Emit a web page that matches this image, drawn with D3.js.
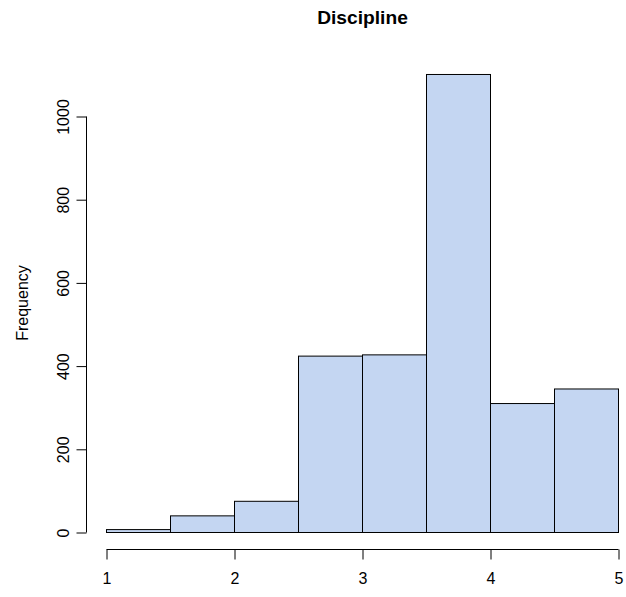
<!DOCTYPE html>
<html>
<head>
<meta charset="utf-8">
<script src="https://cdn.jsdelivr.net/npm/d3@7"></script>
<style>
  html, body { margin: 0; padding: 0; background: #fff; }
  svg { display: block; }
  text { font-family: "Liberation Sans", Arial, Helvetica, sans-serif; fill: #000; }
</style>
</head>
<body>
<script>
// Data (histogram of "Discipline")
const breaks = [1, 1.5, 2, 2.5, 3, 3.5, 4, 4.5, 5];
const counts = [7, 40, 75, 424, 427, 1101, 310, 345];
const xTicks = [1, 2, 3, 4, 5];
const yTicks = [0, 200, 400, 600, 800, 1000];
const title = "Discipline";
const yLabel = "Frequency";

const W = 626, H = 597;
const svg = d3.select("body").append("svg").attr("width", W).attr("height", H);

const x = d3.scaleLinear().domain([1, 5]).range([106.5, 618.5]);
const y = d3.scaleLinear().domain([0, 1000]).range([532.5, 116.5]);

const bins = counts.map((c, i) => ({ x0: breaks[i], x1: breaks[i + 1], n: c }));

svg.append("g").selectAll("rect").data(bins).join("rect")
  .attr("x", d => x(d.x0))
  .attr("y", d => y(d.n))
  .attr("width", d => x(d.x1) - x(d.x0))
  .attr("height", d => y(0) - y(d.n))
  .attr("fill", "#C4D6F2")
  .attr("stroke", "#000")
  .attr("stroke-width", 1);

// X axis
const xAxis = d3.axisBottom(x).tickValues(xTicks).tickSize(10).tickPadding(0).tickFormat(d3.format("d"));
const gx = svg.append("g").attr("transform", "translate(0,549.5)").call(xAxis);
gx.select(".domain").attr("d", `M${x(1)},0H${x(5)}`).attr("stroke", "#000");
gx.selectAll(".tick line").attr("stroke", "#000");
gx.selectAll(".tick text").attr("font-size", 16).attr("dy", null).attr("y", 34)
  .attr("font-family", "Liberation Sans, Arial, sans-serif");

// Y axis
const yAxis = d3.axisLeft(y).tickValues(yTicks).tickSize(10).tickFormat(d3.format("d"));
const gy = svg.append("g").attr("transform", "translate(86.5,0)").call(yAxis);
gy.select(".domain").attr("d", `M0,${y(0)}V${y(1000)}`).attr("stroke", "#000");
gy.selectAll(".tick line").attr("stroke", "#000");
gy.selectAll(".tick text")
  .attr("font-size", 16)
  .attr("font-family", "Liberation Sans, Arial, sans-serif")
  .attr("x", null).attr("dy", null)
  .attr("text-anchor", "middle")
  .attr("transform", "translate(-17.5,0) rotate(-90)")
  .attr("y", 0);

// Title
svg.append("text")
  .attr("x", 362.5).attr("y", 24)
  .attr("text-anchor", "middle")
  .attr("font-size", 19.2).attr("font-weight", "bold")
  .text(title);

// Y label
svg.append("text")
  .attr("transform", "translate(27.5,303) rotate(-90)")
  .attr("text-anchor", "middle")
  .attr("font-size", 16)
  .text(yLabel);
</script>
</body>
</html>
